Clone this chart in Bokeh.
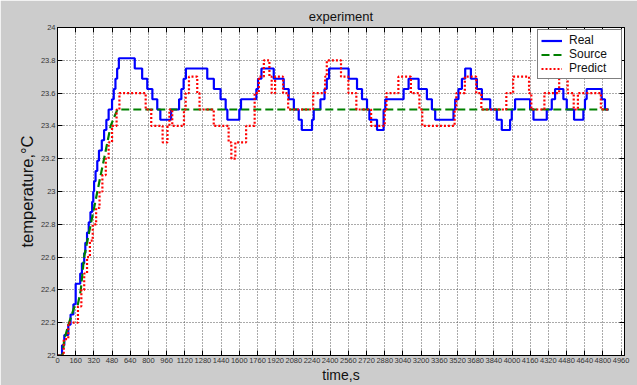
from bokeh.plotting import figure
from bokeh.models import Range1d, FixedTicker, LinearAxis, Legend, LegendItem
from bokeh.embed import file_html
from bokeh.resources import INLINE

# ---------------- data ----------------
x_ticks = [0, 160, 320, 480, 640, 800, 960, 1120, 1280, 1440, 1600, 1760, 1920, 2080,
           2240, 2400, 2560, 2720, 2880, 3040, 3200, 3360, 3520, 3680, 3840, 4000,
           4160, 4320, 4480, 4640, 4800, 4960]
y_ticks = [22, 22.2, 22.4, 22.6, 22.8, 23, 23.2, 23.4, 23.6, 23.8, 24]
y_tick_labels = ["22", "22.2", "22.4", "22.6", "22.8", "23", "23.2", "23.4", "23.6", "23.8", "24"]

real_t = [0, 40, 60, 95, 115, 140, 160, 200, 215, 235, 245, 260, 275, 290, 305, 315, 322,
          335, 350, 365, 390, 410, 430, 450, 480, 495, 510, 525, 540,
          680, 745, 790, 835, 878, 905, 1000, 1070, 1090, 1110, 1130, 1318, 1376, 1435,
          1480, 1495, 1600, 1615, 1750, 1765, 1795, 1903, 1991, 2035, 2080, 2123, 2150,
          2240, 2255, 2314, 2350, 2370, 2390, 2562, 2636, 2680, 2724, 2745, 2812, 2870,
          2885, 3046, 3090, 3178, 3251, 3295, 3324, 3485, 3500, 3529, 3559, 3588, 3638,
          3691, 3735, 3808, 3866, 3910, 3983, 3998, 4027, 4159, 4189, 4306, 4350, 4379,
          4452, 4482, 4546, 4628, 4642, 4657, 4789, 4818, 4850]
real_v = [22.0, 22.0625, 22.125, 22.1875, 22.25, 22.3125, 22.4375, 22.5, 22.5625, 22.625,
          22.6875, 22.75, 22.8125, 22.875, 22.9375, 23.0, 23.0625, 23.125, 23.1875, 23.25,
          23.3125, 23.375, 23.4375, 23.5, 23.5625, 23.625, 23.6875, 23.75, 23.8125,
          23.75, 23.6875, 23.625, 23.5625, 23.5, 23.4375, 23.5, 23.5625, 23.625, 23.6875,
          23.75, 23.6875, 23.625, 23.5625, 23.5, 23.4375, 23.5, 23.5625, 23.625, 23.6875,
          23.75, 23.6875, 23.625, 23.5625, 23.5, 23.4375, 23.375, 23.4375, 23.5, 23.5625,
          23.625, 23.6875, 23.75, 23.6875, 23.625, 23.5625, 23.5, 23.4375, 23.375, 23.5,
          23.5625, 23.625, 23.6875, 23.625, 23.5625, 23.5, 23.4375, 23.5, 23.5625, 23.625,
          23.6875, 23.75, 23.6875, 23.625, 23.5625, 23.5, 23.4375, 23.375, 23.4375, 23.5,
          23.5625, 23.5, 23.4375, 23.5, 23.5625, 23.625, 23.5625, 23.5, 23.4375, 23.5,
          23.5625, 23.625, 23.5625, 23.5, 23.5]

source_t = [0, 44, 60, 102, 150, 176, 205, 234, 278, 322, 351, 380, 410, 439, 468, 497, 527, 4850]
source_v = [22.0, 22.0, 22.1, 22.2, 22.3, 22.3, 22.4, 22.6, 22.75, 22.9, 23.0, 23.1, 23.2,
            23.3, 23.4, 23.45, 23.5, 23.5]

pred_t = [0, 55, 95, 180, 210, 235, 260, 285, 310, 340, 370, 395, 425, 450, 480, 520, 545,
          776, 825, 925, 968, 985, 1010, 1113, 1128, 1157, 1230, 1250, 1375, 1506, 1530,
          1565, 1660, 1735, 1772, 1816, 1865, 1885, 1915, 1985, 2030, 2250, 2355, 2370,
          2495, 2560, 2630, 2760, 2880, 2895, 3000, 3110, 3185, 3210, 3495, 3510, 3585,
          3685, 3730, 3950, 4010, 4150, 4170, 4285, 4415, 4490, 4543, 4580, 4782, 4850]
pred_v = [22.0, 22.1, 22.2, 22.3, 22.4, 22.5, 22.6, 22.7, 22.8, 22.9, 23.0, 23.1, 23.2, 23.3,
          23.4, 23.5, 23.6, 23.5, 23.4, 23.3, 23.4, 23.5, 23.4, 23.5, 23.6, 23.7, 23.6, 23.5,
          23.4, 23.3, 23.2, 23.3, 23.4, 23.6, 23.7, 23.8, 23.7, 23.6, 23.7, 23.6, 23.5, 23.6,
          23.7, 23.8, 23.7, 23.6, 23.5, 23.4, 23.5, 23.6, 23.7, 23.6, 23.5, 23.4, 23.5, 23.6,
          23.7, 23.6, 23.5, 23.6, 23.7, 23.6, 23.5, 23.6, 23.7, 23.6, 23.5, 23.6, 23.5, 23.5]

FONT = "Liberation Sans"

p = figure(width=637, height=385, output_backend="svg", toolbar_location=None,
           x_range=Range1d(0, 4990), y_range=Range1d(22, 24),
           min_border_left=57, min_border_right=13, min_border_top=27, min_border_bottom=28)

p.background_fill_color = "white"
p.border_fill_color = "#cccccc"
p.outline_line_color = "black"
p.outline_line_width = 1

p.title.text = "experiment"
p.title.align = "center"
p.title.text_font = FONT
p.title.text_font_size = "13px"
p.title.text_font_style = "normal"
p.title.text_color = "#111111"
p.title.standoff = 7
p.title.offset = 0

for ax, ticks in ((p.xaxis[0], x_ticks), (p.yaxis[0], y_ticks)):
    ax.ticker = FixedTicker(ticks=ticks)
    ax.major_tick_in = 5
    ax.major_tick_out = 0
    ax.minor_tick_line_color = None
    ax.axis_line_color = "black"
    ax.major_tick_line_color = "black"
    ax.major_label_text_font = FONT
    ax.major_label_text_font_size = "7.5px"
    ax.major_label_text_color = "#333333"
    ax.major_label_standoff = 2
    ax.axis_label_text_font = FONT
    ax.axis_label_text_font_style = "normal"
    ax.axis_label_text_color = "#111111"
    ax.axis_label_standoff = 1

p.yaxis[0].major_label_overrides = {t: l for t, l in zip(y_ticks, y_tick_labels)}
p.xaxis[0].axis_label = "time,s"
p.xaxis[0].axis_label_text_font_size = "14px"
p.yaxis[0].axis_label = "temperature,\u00b0C"
p.yaxis[0].axis_label_text_font_size = "16.5px"
p.yaxis[0].axis_label_standoff = 2

top = LinearAxis(ticker=FixedTicker(ticks=x_ticks), major_label_text_font_size="0px",
                 major_label_text_color=None,
                 major_label_standoff=0, major_tick_in=5, major_tick_out=0,
                 minor_tick_line_color=None, axis_line_color="black")
right = LinearAxis(ticker=FixedTicker(ticks=y_ticks), major_label_text_font_size="0px",
                   major_label_text_color=None,
                   major_label_standoff=0, major_tick_in=5, major_tick_out=0,
                   minor_tick_line_color=None, axis_line_color="black")
p.add_layout(top, "above")
p.add_layout(right, "right")

p.grid.grid_line_color = "#555555"
p.grid.grid_line_dash = "1 2"
p.grid.grid_line_width = 1
p.xgrid.ticker = FixedTicker(ticks=x_ticks)
p.ygrid.ticker = FixedTicker(ticks=y_ticks)

r_real = p.step(real_t, real_v, mode="after", line_color="#0000ff", line_width=2.2)
r_src = p.line(source_t, source_v, line_color="#008000", line_width=2.2, line_dash="8 4")
r_pred = p.step(pred_t, pred_v, mode="after", line_color="#ff0000", line_width=2.2,
                line_dash="2 2")

legend = Legend(items=[LegendItem(label="Real", renderers=[r_real]),
                       LegendItem(label="Source", renderers=[r_src]),
                       LegendItem(label="Predict", renderers=[r_pred])],
                location="top_right")
legend.margin = 2
legend.padding = 3
legend.spacing = 0
legend.label_height = 13
legend.glyph_height = 13
legend.glyph_width = 21
legend.label_standoff = 7
legend.label_width = 49
legend.label_text_font = FONT
legend.label_text_font_size = "12px"
legend.label_text_color = "#111111"
legend.border_line_color = "black"
legend.background_fill_color = "white"
legend.background_fill_alpha = 1
p.add_layout(legend, "center")

open("out.html", "w").write(file_html(p, INLINE))
